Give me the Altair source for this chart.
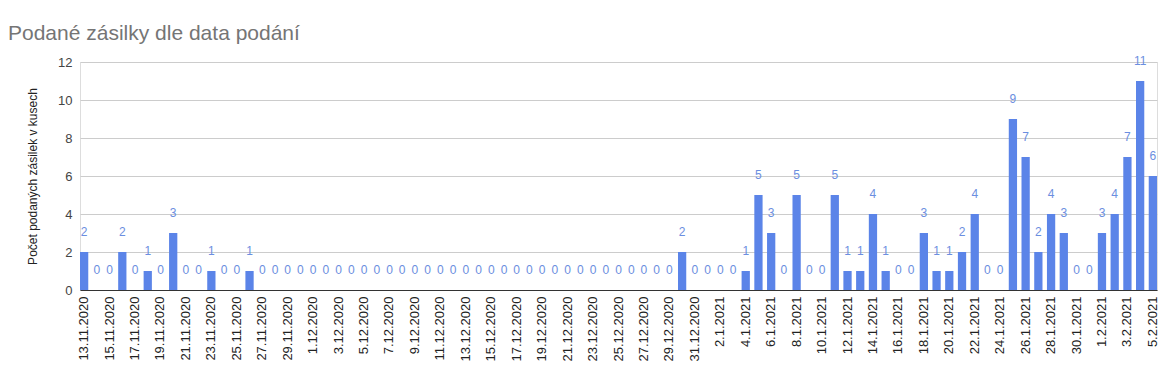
import altair as alt
import pandas as pd
import datetime as dt

start = dt.date(2020, 11, 13)
dates = [f"{(start + dt.timedelta(days=i)).day}.{(start + dt.timedelta(days=i)).month}.{(start + dt.timedelta(days=i)).year}" for i in range(85)]

values = [
    2, 0, 0, 2, 0, 1, 0, 3, 0, 0, 1, 0, 0, 1,          # 13.11 - 26.11
    0, 0, 0, 0,                                         # 27.11 - 30.11
    0, 0, 0, 0, 0, 0, 0, 0, 0, 0, 0, 0, 0, 0, 0, 0,     # 1.12 - 16.12
    0, 0, 0, 0, 0, 0, 0, 0, 0, 0, 0, 0, 0,              # 17.12 - 29.12
    2, 0,                                               # 30.12 - 31.12
    0, 0, 0, 1, 5, 3, 0, 5, 0, 0, 5, 1, 1, 4, 1, 0,     # 1.1 - 16.1
    0, 3, 1, 1, 2, 4, 0, 0, 9, 7, 2, 4, 3, 0, 0,        # 17.1 - 31.1
    3, 4, 7, 11, 6,                                     # 1.2 - 5.2
]

tick_labels = dates[::2]
y_ticks = [0, 2, 4, 6, 8, 10, 12]

df = pd.DataFrame({"datum": dates, "pocet": values})

FONT = "Liberation Sans"
BAR = "#5b84e8"
LBL = "#6b8ee0"

x = alt.X("datum:N", sort=dates,
          scale=alt.Scale(paddingInner=0.35, paddingOuter=0.0),
          axis=alt.Axis(title=None, values=tick_labels, labelAngle=-90,
                        labelAlign="right", labelBaseline="middle",
                        labelFontSize=13, labelColor="#222222", labelFont=FONT,
                        ticks=False, domain=True, domainColor="#333333",
                        labelPadding=6, labelOverlap=False))
y = alt.Y("pocet:Q", scale=alt.Scale(domain=[0, 12], nice=False),
          axis=alt.Axis(title="Počet podaných zásilek v kusech", values=y_ticks,
                        titleFontSize=12, titleFont=FONT, titleFontWeight="normal",
                        titleColor="#222222", titlePadding=18,
                        labelFontSize=13, labelColor="#444444", labelFont=FONT,
                        labelOverlap=False,
                        ticks=False, domain=False, gridColor="#cccccc",
                        labelPadding=8))

bars = alt.Chart(df).mark_bar(color=BAR).encode(x=x, y=y)
labels = alt.Chart(df).mark_text(color=LBL, fontSize=12, font=FONT, baseline="middle", dy=-20).encode(
    x=x, y=y, text=alt.Text("pocet:Q"))

chart = alt.layer(bars, labels).properties(
    width=1077, height=228,
    title=alt.TitleParams("Podané zásilky dle data podání", anchor="start", frame="group", dx=-72,
                          fontSize=21, font=FONT, fontWeight="normal", color="#757575", offset=11),
    autosize=alt.AutoSizeParams(type="none"),
    padding={"left": 80, "top": 62, "right": 16, "bottom": 87},
).configure_view(stroke=None).configure(background="white")

chart.save("out.html", embed_options={"renderer": "svg", "actions": False})
